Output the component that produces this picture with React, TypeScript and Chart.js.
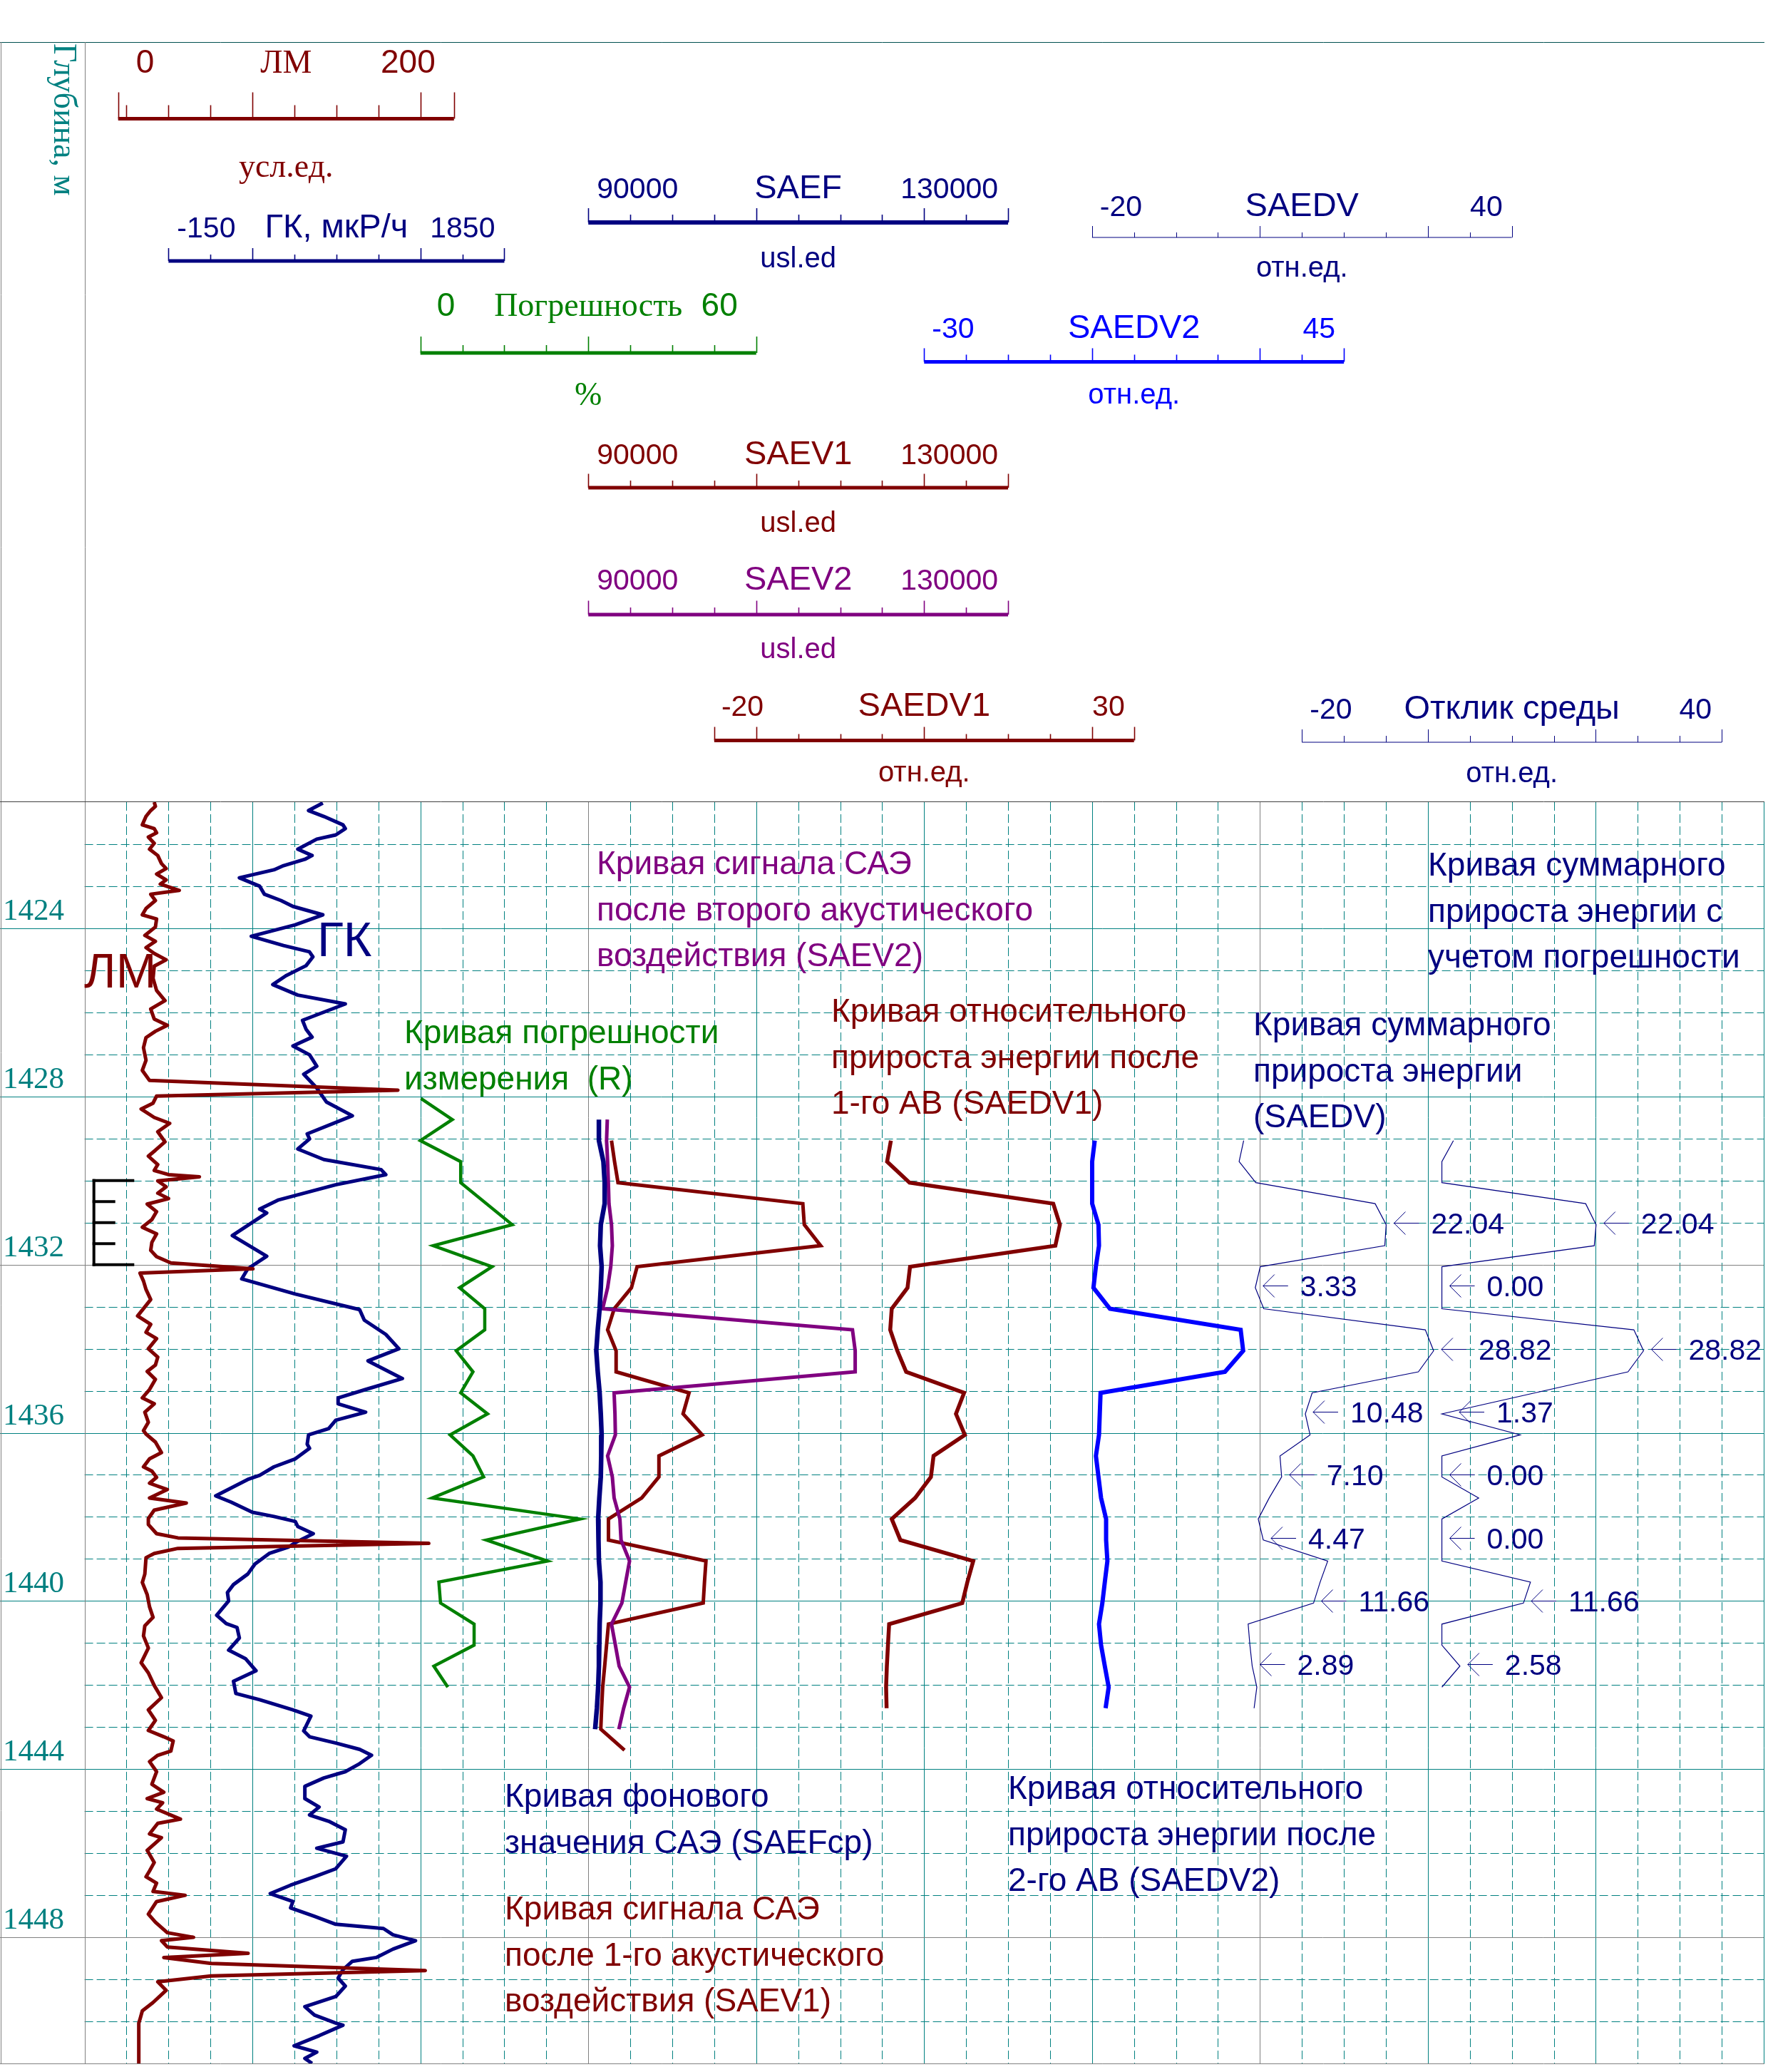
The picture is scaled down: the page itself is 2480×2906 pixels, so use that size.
import React, { useEffect, useRef } from 'react';
import { Chart, registerables } from 'chart.js';

Chart.register(...registerables);

// ================= DATA =================
// ЛМ curve: [depth, value (усл.ед.)]
const lmCurve: [number, number][] = [
  [1421.00,21.5],[1421.10,22.2],[1421.20,19.4],[1421.34,16.6],[1421.54,14.4],[1421.63,21.5],[1421.73,22.9],[1421.83,18.0],
  [1421.98,21.5],[1422.12,18.7],[1422.27,23.6],[1422.46,25.8],[1422.58,28.6],[1422.71,22.9],[1422.85,28.6],[1422.95,25.1],
  [1423.10,36.4],[1423.19,19.4],[1423.34,22.2],[1423.53,16.6],[1423.68,14.4],[1423.78,22.9],[1423.97,22.2],[1424.17,15.9],
  [1424.31,22.2],[1424.46,16.6],[1424.60,21.5],[1424.75,28.6],[1424.90,21.5],[1425.19,20.8],[1425.48,22.9],[1425.72,27.9],
  [1425.92,19.4],[1426.16,21.5],[1426.31,29.3],[1426.45,22.2],[1426.60,16.6],[1426.84,15.1],[1427.14,16.6],[1427.38,14.4],
  [1427.62,18.7],[1427.85,166.6],[1427.99,22.9],[1428.16,20.8],[1428.30,13.7],[1428.50,21.5],[1428.64,30.7],[1428.84,23.6],
  [1429.08,27.9],[1429.28,22.2],[1429.42,18.0],[1429.62,23.6],[1429.76,21.5],[1429.86,30.0],[1429.91,48.4],[1430.01,23.6],
  [1430.15,28.6],[1430.30,23.6],[1430.43,30.0],[1430.56,17.3],[1430.74,22.9],[1430.93,20.1],[1431.11,14.4],[1431.27,22.9],
  [1431.47,20.1],[1431.66,19.4],[1431.81,22.9],[1431.96,31.4],[1432.10,80.3],[1432.20,13.0],[1432.39,15.1],[1432.59,16.6],
  [1432.83,19.4],[1433.22,11.6],[1433.42,19.4],[1433.61,16.6],[1433.76,22.9],[1434.00,18.0],[1434.20,23.6],[1434.39,22.2],
  [1434.54,17.3],[1434.73,22.2],[1434.97,18.7],[1435.17,14.4],[1435.31,21.5],[1435.51,15.9],[1435.75,18.0],[1435.95,15.1],
  [1436.03,16.6],[1436.22,22.2],[1436.47,25.8],[1436.62,18.7],[1436.81,15.1],[1436.91,20.1],[1437.06,22.9],[1437.20,18.7],
  [1437.35,29.3],[1437.55,18.7],[1437.67,40.6],[1437.84,21.5],[1438.04,18.0],[1438.18,18.0],[1438.40,22.9],[1438.50,35.6],
  [1438.63,185.0],[1438.75,35.6],[1438.87,21.5],[1438.97,16.6],[1439.36,15.9],[1439.56,14.4],[1439.85,17.3],[1440.14,18.7],
  [1440.39,20.8],[1440.59,15.9],[1440.83,15.1],[1441.12,18.0],[1441.47,13.7],[1441.71,18.0],[1442.01,21.5],[1442.30,25.8],
  [1442.59,18.0],[1442.84,22.2],[1443.08,18.0],[1443.23,27.2],[1443.33,32.8],[1443.57,31.4],[1443.67,23.6],[1443.82,18.7],
  [1444.06,22.9],[1444.36,20.1],[1444.55,27.2],[1444.70,17.3],[1444.80,26.5],[1444.95,22.9],[1445.19,37.1],[1445.29,23.6],
  [1445.54,18.7],[1445.63,25.8],[1445.93,17.3],[1446.22,21.5],[1446.42,18.7],[1446.56,16.6],[1446.71,22.9],[1446.91,20.8],
  [1447.00,39.9],[1447.15,22.9],[1447.45,18.0],[1447.64,22.2],[1447.89,29.3],[1448.00,44.9],[1448.08,25.8],[1448.23,29.3],
  [1448.38,77.4],[1448.48,27.2],[1448.62,55.5],[1448.79,182.9],[1448.92,55.5],[1449.06,23.6],[1449.26,28.6],[1449.55,20.8],
  [1449.75,14.4],[1449.95,13.0],[1450.04,12.3],[1451.00,12.3]
];

// ГК curve: [depth, value (мкР/ч)]
const gkCurve: [number, number][] = [
  [1421.02,769],[1421.20,684],[1421.34,775],[1421.54,889],[1421.63,903],[1421.78,846],[1421.88,733],[1422.12,620],
  [1422.27,705],[1422.36,662],[1422.51,535],[1422.61,478],[1422.80,272],[1423.00,393],[1423.19,421],[1423.34,520],
  [1423.48,591],[1423.68,769],[1423.92,604],[1424.19,343],[1424.41,535],[1424.56,689],[1424.68,710],[1424.89,669],
  [1425.13,549],[1425.34,471],[1425.59,620],[1425.80,903],[1426.19,648],[1426.40,669],[1426.59,705],[1426.80,591],
  [1427.01,690],[1427.28,733],[1427.47,655],[1427.80,733],[1428.13,790],[1428.46,945],[1428.89,676],[1429.01,690],
  [1429.25,620],[1429.50,775],[1429.74,1116],[1429.86,1144],[1430.10,846],[1430.46,506],[1430.68,393],[1430.77,435],
  [1431.31,230],[1431.80,435],[1432.10,322],[1432.34,286],[1432.70,605],[1433.07,988],[1433.32,1016],[1433.66,1144],
  [1434.00,1222],[1434.29,1038],[1434.71,1243],[1434.97,1024],[1435.17,860],[1435.31,860],[1435.51,1024],[1435.70,846],
  [1435.90,804],[1436.05,684],[1436.27,676],[1436.37,690],[1436.62,605],[1436.81,478],[1437.01,393],[1437.11,322],
  [1437.50,131],[1437.65,223],[1437.89,350],[1437.99,478],[1438.11,605],[1438.23,620],[1438.40,712],[1438.58,620],
  [1438.72,563],[1438.87,450],[1439.12,365],[1439.36,322],[1439.61,237],[1439.80,201],[1440.00,208],[1440.34,137],
  [1440.54,194],[1440.63,258],[1440.88,272],[1441.17,208],[1441.37,308],[1441.66,371],[1441.91,237],[1442.20,251],
  [1442.35,393],[1442.59,591],[1442.74,698],[1443.09,655],[1443.23,690],[1443.38,846],[1443.53,988],[1443.67,1059],
  [1443.87,988],[1444.06,903],[1444.21,775],[1444.41,662],[1444.70,662],[1444.90,747],[1445.09,690],[1445.24,804],
  [1445.44,903],[1445.73,889],[1445.88,733],[1446.07,910],[1446.37,846],[1446.56,719],[1446.76,577],[1446.96,456],
  [1447.15,591],[1447.30,577],[1447.50,719],[1447.69,846],[1447.79,1130],[1447.94,1187],[1448.08,1321],[1448.28,1187],
  [1448.48,1087],[1448.57,945],[1448.77,889],[1448.97,860],[1449.16,903],[1449.41,846],[1449.65,662],[1449.85,719],
  [1450.04,846],[1450.09,889],[1450.34,747],[1450.58,598],[1450.73,733],[1450.88,662],[1451.00,705]
];

// Погрешность (R), %
const rDepth = [1428.05,1428.55,1429.05,1429.55,1430.05,1431.05,1431.55,1432.05,1432.55,1433.05,1433.55,1434.05,1434.55,1435.05,
  1435.55,1436.05,1436.55,1437.05,1437.55,1438.05,1438.55,1439.05,1439.55,1440.05,1440.55,1441.05,1441.55,1442.05];
const rValue = [0.1,5.7,0.0,7.2,7.2,16.4,2.3,12.8,7.0,11.5,11.5,6.4,9.4,7.2,12.0,5.3,9.4,11.3,2.1,28.5,11.8,22.7,3.3,3.6,9.6,9.6,2.4,4.9];

// SAEF (фон) и SAEV2
const saeDepth = [1428.55,1429.05,1429.55,1430.05,1430.55,1431.05,1431.55,1432.05,1432.55,1433.05,1433.55,1434.05,1434.55,1435.05,
  1435.55,1436.05,1436.55,1437.05,1437.55,1438.05,1438.55,1439.05,1439.55,1440.05,1440.55,1441.05,1441.55,1442.05,1442.55,1443.05];
const saefValue = [91010,91010,91440,91560,91560,91190,91120,91270,91190,91080,90900,90760,90900,91080,91190,91270,91230,91190,
  91050,90940,90970,91010,91160,91160,91080,91050,91010,90940,90820,90650];
const saev2Value = [91810,91740,91840,91910,91970,92210,92290,92140,91840,91370,115170,115430,115430,92460,92540,92580,91840,92290,
  92460,93010,93120,93930,93560,93200,92210,92580,92940,93930,93370,92910];

// SAEV1
const saev1Depth = [1429.05,1429.55,1430.05,1430.55,1431.05,1431.55,1432.05,1432.55,1433.05,1433.55,1434.05,1434.55,1435.05,1435.55,
  1436.05,1436.55,1437.05,1437.55,1438.05,1438.55,1439.05,1439.55,1440.05,1440.55,1441.05,1441.55,1442.05,1442.55,1443.05,1443.55];
const saev1Value = [92210,92500,92830,110440,110580,112140,94650,94110,92470,91840,92650,92650,99600,99030,100850,96730,96730,95090,
  91920,91920,101210,101070,100950,91920,91740,91560,91370,91270,91190,93450];

// SAEDV1, SAEDV2, SAEDV (отн.ед.)
const dvDepth = [1429.05,1429.55,1430.05,1430.55,1431.05,1431.55,1432.05,1432.55,1433.05,1433.55,1434.05,1434.55,1435.05,1435.55,
  1436.05,1436.55,1437.05,1437.55,1438.05,1438.55,1439.05,1439.55,1440.05,1440.55,1441.05,1441.55,1442.05,1442.55];
const saedv1Value = [1.04,0.59,3.26,20.38,21.17,20.63,3.32,3.02,1.14,0.96,1.81,2.86,9.76,8.79,9.85,6.12,5.81,3.93,1.14,2.17,10.85,
  10.15,9.54,0.83,0.69,0.56,0.47,0.53];
const saedv2Value = [0.48,0.02,0.02,0.02,1.15,1.24,0.68,0.25,3.19,26.55,27.0,23.74,1.52,1.38,1.24,0.69,1.15,1.61,2.51,2.51,2.74,
  2.28,1.84,1.24,1.61,2.28,2.97,2.42];
const saedvValue = [1.67,1.02,3.40,20.46,22.04,21.84,4.04,3.33,4.54,27.63,28.82,26.64,11.46,10.48,11.16,6.86,7.10,5.32,3.75,4.47,
  13.68,12.60,11.66,2.31,2.56,2.89,3.55,3.16];

// Отклик среды (с учетом погрешности)
const otklikDepth = [1429.05,1429.55,1430.05,1430.55,1431.05,1431.55,1432.05,1432.55,1433.05,1433.55,1434.05,1434.55,1435.55,
  1436.05,1436.55,1437.05,1437.55,1438.05,1438.55,1439.05,1439.55,1440.05,1440.55,1441.05,1441.55,1442.05];
const otklikValue = [1.65,0,0,20.55,22.04,21.78,0,0,0,27.44,28.82,26.6,0,11.2,0,0,5.26,0,0,0,12.66,11.66,0,0,2.58,0];

// interval value labels
const labelDepth = [1431.0,1432.5,1434.0,1435.5,1437.0,1438.5,1440.0,1441.5];
const saedvLabel = [22.04,3.33,28.82,10.48,7.10,4.47,11.66,2.89];
const otklikLabel = [22.04,0.00,28.82,1.37,0.00,0.00,11.66,2.58];

// depth axis
const depthMin = 1421;
const depthMax = 1451;
const depthTicks = [1424,1428,1432,1436,1440,1444,1448];
const perfMarks = [1430,1430.5,1431,1431.5,1432];

// header scales
const axisName = ['ЛМ','ГК, мкР/ч','SAEF','SAEDV','Погрешность','SAEDV2','SAEV1','SAEV2','SAEDV1','Отклик среды'];
const axisMin = [0,-150,90000,-20,0,-30,90000,90000,-20,-20];
const axisMax = [200,1850,130000,40,60,45,130000,130000,30,40];
const axisUnit = ['усл.ед.','','usl.ed','отн.ед.','%','отн.ед.','usl.ed','usl.ed','отн.ед.','отн.ед.'];

// annotations
const noteLines: string[][] = [
  ['Кривая сигнала САЭ','после второго акустического','воздействия (SAEV2)'],
  ['Кривая суммарного','прироста энергии с','учетом погрешности'],
  ['Кривая погрешности','измерения  (R)'],
  ['Кривая относительного','прироста энергии после','1-го АВ (SAEDV1)'],
  ['Кривая суммарного','прироста энергии','(SAEDV)'],
  ['Кривая фонового','значения САЭ (SAEFср)'],
  ['Кривая сигнала САЭ','после 1-го акустического','воздействия (SAEV1)'],
  ['Кривая относительного','прироста энергии после','2-го АВ (SAEDV2)'],
];

// ================= LAYOUT / STYLE =================
const W = 2480;
const H = 2906;
const SANS = '"Liberation Sans", Arial, sans-serif';
const SERIF = '"Liberation Serif", "Times New Roman", serif';
const TEAL = '#008080';
const DIVS = 40;

const HEADER = [
  { id: 'xLM', k0: 0.8, k1: 8.8, lineY: 166.5, lw: 5, tall: 37, small: 19, labelY: 102, unitY: 248, padL: 25, padR: 26, num: 46, nameSerif: true, unitSerif: true, color: '#800000' },
  { id: 'xGK', k0: 2, k1: 10, lineY: 366, lw: 5, tall: 18, small: 9, labelY: 333, unitY: 0, padL: 12, padR: 13, num: 41, color: '#000080' },
  { id: 'xSAEF', k0: 12, k1: 22, lineY: 312, lw: 6, tall: 20, small: 11, labelY: 277.5, unitY: 374.7, padL: 12, padR: 14, num: 41, color: '#000080' },
  { id: 'xSAEDV', k0: 24, k1: 34, lineY: 333, lw: 1, tall: 16, small: 7, labelY: 302.7, unitY: 388, padL: 11, padR: 13, num: 41, color: '#000080' },
  { id: 'xR', k0: 8, k1: 16, lineY: 495, lw: 5, tall: 23, small: 11, labelY: 443, unitY: 568, padL: 23, padR: 26, num: 46, nameSerif: true, unitSerif: true, color: '#008000' },
  { id: 'xSAEDV2', k0: 20, k1: 30, lineY: 507.4, lw: 5, tall: 19, small: 10, labelY: 473.5, unitY: 566, padL: 11, padR: 12, num: 41, color: '#0000FF' },
  { id: 'xSAEV1', k0: 12, k1: 22, lineY: 684, lw: 5, tall: 19.5, small: 10, labelY: 650.8, unitY: 746, padL: 12, padR: 14, num: 41, color: '#800000' },
  { id: 'xSAEV2', k0: 12, k1: 22, lineY: 862, lw: 5, tall: 19.5, small: 10, labelY: 826.6, unitY: 922.5, padL: 12, padR: 14, num: 41, color: '#800080' },
  { id: 'xSAEDV1', k0: 15, k1: 25, lineY: 1038.5, lw: 5, tall: 19, small: 9, labelY: 1004, unitY: 1096, padL: 10, padR: 13, num: 41, color: '#800000' },
  { id: 'xOT', k0: 29, k1: 39, lineY: 1041, lw: 1, tall: 18, small: 9, labelY: 1007.5, unitY: 1097, padL: 11, padR: 14, num: 41, color: '#000080' },
];

const NOTE_LAYOUT = [
  { x: 837, y: 1226, color: '#800080' },
  { x: 2003, y: 1228, color: '#000080' },
  { x: 567, y: 1463, color: '#008000' },
  { x: 1166, y: 1433, color: '#800000' },
  { x: 1758, y: 1452, color: '#000080' },
  { x: 708, y: 2534, color: '#000080' },
  { x: 708, y: 2692, color: '#800000' },
  { x: 1414, y: 2523, color: '#000080' },
];
const NOTE_LINE_H = 64.5;

function axisRange(i: number) {
  const h = HEADER[i];
  const per = (axisMax[i] - axisMin[i]) / (h.k1 - h.k0);
  const min = axisMin[i] - h.k0 * per;
  return { min, max: min + DIVS * per };
}

function hLine(ctx: CanvasRenderingContext2D, x0: number, x1: number, y: number) {
  ctx.beginPath(); ctx.moveTo(x0, y); ctx.lineTo(x1, y); ctx.stroke();
}
function vLine(ctx: CanvasRenderingContext2D, x: number, y0: number, y1: number) {
  ctx.beginPath(); ctx.moveTo(x, y0); ctx.lineTo(x, y1); ctx.stroke();
}
function txt(ctx: CanvasRenderingContext2D, s: string, x: number, y: number, font: string, color: string, align: CanvasTextAlign = 'left') {
  ctx.font = font; ctx.fillStyle = color; ctx.textAlign = align; ctx.textBaseline = 'alphabetic';
  ctx.fillText(s, x, y);
}

const logPlugin = {
  id: 'wellLog',
  beforeDatasetsDraw(chart: any) {
    const ctx: CanvasRenderingContext2D = chart.ctx;
    const a = chart.chartArea;
    const ys = chart.scales.y;
    const xg = chart.scales.xGrid;
    ctx.save();
    ctx.lineCap = 'butt';

    // ---- grid ----
    ctx.lineWidth = 1;
    for (let k = 0; k <= DIVS; k++) {
      const x = Math.round(xg.getPixelForValue(k)) + 0.5;
      const major = k % 4 === 0;
      const gray = k === 0 || k === 12 || k === 28;
      ctx.strokeStyle = gray ? '#808080' : TEAL;
      ctx.setLineDash(major ? [] : [12, 5]);
      vLine(ctx, x, a.top, a.bottom);
    }
    for (let d = depthMin + 1; d < depthMax; d++) {
      const y = Math.round(ys.getPixelForValue(d)) + 0.5;
      const major = d % 4 === 0;
      const gray = d === 1432 || d === 1448;
      ctx.strokeStyle = gray ? '#808080' : TEAL;
      ctx.setLineDash(major ? [] : [12, 5]);
      hLine(ctx, major ? 0 : a.left, a.right, y);
    }
    ctx.setLineDash([]);

    // ---- frame ----
    ctx.strokeStyle = '#005050';
    hLine(ctx, 0, a.right + 1, 59.5);
    ctx.strokeStyle = '#808080';
    vLine(ctx, 1.5, 59, a.bottom);
    vLine(ctx, Math.round(a.left) + 0.5, 59, a.bottom);
    hLine(ctx, 0, a.right + 1, Math.round(a.bottom) + 0.5);
    ctx.strokeStyle = '#404040';
    hLine(ctx, 0, a.right + 1, Math.round(a.top) - 0.5);

    // ---- depth track ----
    ctx.save();
    ctx.translate(76, 61);
    ctx.rotate(Math.PI / 2);
    txt(ctx, 'Глубина, м', 0, 0, `46px ${SERIF}`, TEAL);
    ctx.restore();
    depthTicks.forEach((d) => {
      txt(ctx, String(d), 4, ys.getPixelForValue(d) - 12, `43px ${SERIF}`, TEAL);
    });

    // ---- header scales ----
    HEADER.forEach((h, i) => {
      const sc = chart.scales[h.id];
      const x0 = sc.getPixelForValue(axisMin[i]);
      const x1 = sc.getPixelForValue(axisMax[i]);
      ctx.strokeStyle = h.color;
      ctx.lineWidth = h.lw;
      hLine(ctx, x0, x1, h.lineY);
      ctx.lineWidth = h.lw > 1 ? 1.6 : 1;
      const tick = (x: number, len: number) => {
        const xx = Math.round(x) + 0.5;
        vLine(ctx, xx, h.lineY - len, h.lineY);
      };
      tick(x0, h.tall);
      tick(x1, h.tall);
      for (let k = Math.ceil(h.k0 + 1e-6); k < h.k1 - 1e-6; k++) {
        tick(xg.getPixelForValue(k), k % 4 === 0 ? h.tall : h.small);
      }
      const mid = (x0 + x1) / 2;
      txt(ctx, String(axisMin[i]), x0 + h.padL, h.labelY, `${h.num}px ${SANS}`, h.color, 'left');
      txt(ctx, String(axisMax[i]), x1 - h.padR, h.labelY, `${h.num}px ${SANS}`, h.color, 'right');
      txt(ctx, axisName[i], mid, h.labelY, h.nameSerif ? `46px ${SERIF}` : `47px ${SANS}`, h.color, 'center');
      if (axisUnit[i]) {
        txt(ctx, axisUnit[i], mid, h.unitY, h.unitSerif ? `46px ${SERIF}` : `40px ${SANS}`, h.color, 'center');
      }
    });

    // ---- annotations ----
    noteLines.forEach((lines, i) => {
      const L = NOTE_LAYOUT[i];
      lines.forEach((s, j) => txt(ctx, s, L.x, L.y + j * NOTE_LINE_H, `46px ${SANS}`, L.color));
    });
    txt(ctx, 'ЛМ', 118, 1385, `68px ${SANS}`, '#800000');
    txt(ctx, 'ГК', 445, 1341, `68px ${SANS}`, '#000080');

    // ---- perforation bracket ----
    ctx.strokeStyle = '#000000';
    ctx.lineWidth = 4;
    const bx = 131.7;
    const yTop = ys.getPixelForValue(perfMarks[0]);
    const yBot = ys.getPixelForValue(perfMarks[perfMarks.length - 1]);
    vLine(ctx, bx, yTop - 2, yBot + 2);
    perfMarks.forEach((d, i) => {
      const end = i === 0 || i === perfMarks.length - 1 ? 188.3 : 161.7;
      hLine(ctx, bx - 2, end, ys.getPixelForValue(d));
    });
    ctx.restore();
  },
  afterDatasetsDraw(chart: any) {
    const ctx: CanvasRenderingContext2D = chart.ctx;
    const ys = chart.scales.y;
    ctx.save();
    ctx.strokeStyle = '#000080';
    ctx.lineWidth = 1;
    const drawLabel = (scaleId: string, v: number, d: number) => {
      const y = Math.round(ys.getPixelForValue(d)) + 0.5;
      const tip = chart.scales[scaleId].getPixelForValue(v) + 11;
      hLine(ctx, tip, tip + 35, y);
      ctx.beginPath();
      ctx.moveTo(tip + 16, y - 16); ctx.lineTo(tip, y); ctx.lineTo(tip + 16, y + 16);
      ctx.stroke();
      txt(ctx, v.toFixed(2), tip + 52, y + 14.5, `41px ${SANS}`, '#000080');
    };
    labelDepth.forEach((d, i) => {
      drawLabel('xSAEDV', saedvLabel[i], d);
      drawLabel('xOT', otklikLabel[i], d);
    });
    ctx.restore();
  },
};

const pts = (depths: number[], values: number[]) => depths.map((d, i) => ({ x: values[i], y: d }));
const pairPts = (curve: [number, number][]) => curve.map(([d, v]) => ({ x: v, y: d }));

function lineDs(data: any[], axis: string, color: string, width: number, join: CanvasLineJoin = 'miter') {
  return {
    data, xAxisID: axis, yAxisID: 'y', borderColor: color, borderWidth: width,
    pointRadius: 0, fill: false, tension: 0, borderJoinStyle: join, borderCapStyle: 'butt',
  };
}

export default function App() {
  const ref = useRef<HTMLCanvasElement | null>(null);
  useEffect(() => {
    const canvas = ref.current;
    if (!canvas) return;
    const scales: any = {
      y: { type: 'linear', reverse: true, min: depthMin, max: depthMax, display: false },
      xGrid: { type: 'linear', axis: 'x', min: 0, max: DIVS, display: false },
    };
    HEADER.forEach((h, i) => {
      const r = axisRange(i);
      scales[h.id] = { type: 'linear', axis: 'x', min: r.min, max: r.max, display: false };
    });
    const chart = new Chart(canvas, {
      type: 'line',
      data: {
        datasets: [
          lineDs(pts(saeDepth, saefValue), 'xSAEF', '#000080', 6.5),
          lineDs(pts(saeDepth, saev2Value), 'xSAEV2', '#800080', 5),
          lineDs(pts(saev1Depth, saev1Value), 'xSAEV1', '#800000', 5),
          lineDs(pts(rDepth, rValue), 'xR', '#008000', 4.5),
          lineDs(pts(dvDepth, saedv1Value), 'xSAEDV1', '#800000', 5.5),
          lineDs(pts(dvDepth, saedv2Value), 'xSAEDV2', '#0000FF', 6),
          lineDs(pts(dvDepth, saedvValue), 'xSAEDV', '#000080', 1.2),
          lineDs(pts(otklikDepth, otklikValue), 'xOT', '#000080', 1.2),
          lineDs(pairPts(lmCurve), 'xLM', '#800000', 5, 'round'),
          lineDs(pairPts(gkCurve), 'xGK', '#000080', 5, 'round'),
        ] as any,
      },
      options: {
        responsive: false,
        animation: false,
        devicePixelRatio: 1,
        indexAxis: 'y',
        events: [],
        layout: { padding: { left: 118.6, top: 1125, right: 6, bottom: 12 } },
        plugins: { legend: { display: false }, tooltip: { enabled: false }, title: { display: false } },
        scales,
      } as any,
      plugins: [logPlugin as any],
    });
    return () => chart.destroy();
  }, []);
  return (
    <div style={{ position: 'absolute', left: 0, top: 0, width: W, height: H, background: '#ffffff' }}>
      <canvas ref={ref} width={W} height={H} style={{ display: 'block', width: W, height: H }} />
    </div>
  );
}
